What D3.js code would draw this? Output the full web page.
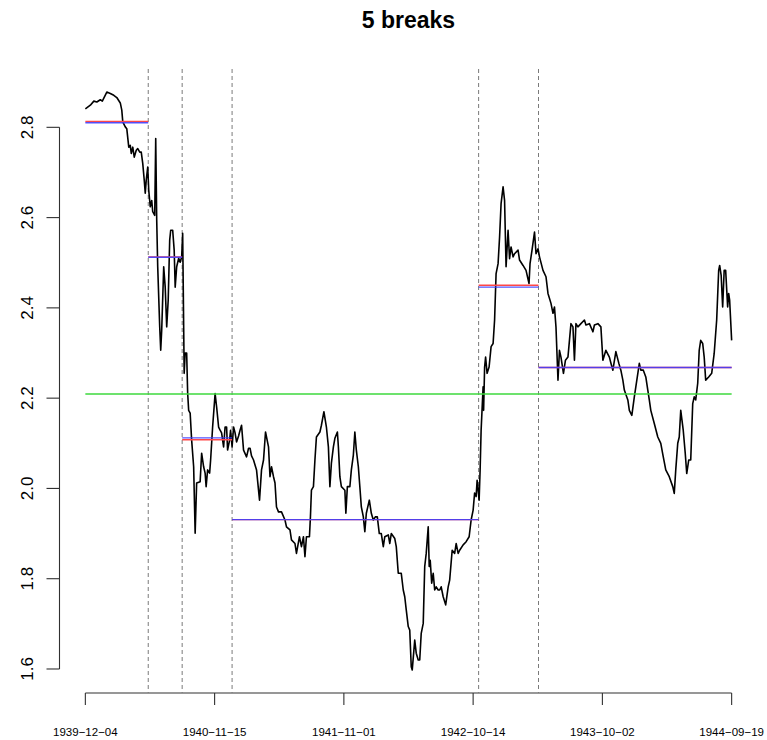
<!DOCTYPE html>
<html>
<head>
<meta charset="utf-8">
<script src="https://cdn.jsdelivr.net/npm/d3@7"></script>
<style>
  body { margin: 0; background: #fff; }
  svg { display: block; }
  text { font-family: "Liberation Sans", Arial, Helvetica, sans-serif; fill: #000; }
</style>
</head>
<body>
<svg id="chart" width="767" height="740"></svg>
<script>
// ---- data ----------------------------------------------------------------
const chartTitle = "5 breaks";

// axis labels along the observation index
const dateLabels = ["1939-12-04", "1940-11-15", "1941-11-01", "1942-10-14", "1943-10-02", "1944-09-19"];
const labelObs = [0, 259, 518, 777, 1036, 1295];
const yTicks = [1.6, 1.8, 2.0, 2.2, 2.4, 2.6, 2.8];

// estimated break points (observation index)
const breakObs = [126, 194, 294, 788, 908];

// per-segment levels: fitted (red) and segment mean (blue)
const segmentFit  = [2.813, 2.513, 2.108, 1.931, 2.450, 2.268];
const segmentMean = [2.810, 2.512, 2.112, 1.931, 2.446, 2.268];
// mean of the whole series (green)
const overallMean = 2.209;

// [observation, value]
const series = [
  [0,2.841],[10,2.849],[17,2.858],[23,2.856],[30,2.861],[34,2.858],[43,2.878],[50,2.875],[57,2.871],[63,2.866],
  [70,2.854],[73,2.838],[75,2.812],[80,2.801],[83,2.797],[87,2.756],[90,2.760],[92,2.742],[95,2.756],[98,2.734],
  [102,2.749],[105,2.753],[109,2.745],[112,2.745],[115,2.720],[118,2.683],[120,2.654],[122,2.683],[125,2.712],[127,2.661],
  [130,2.624],[133,2.638],[135,2.613],[139,2.605],[141,2.775],[143,2.594],[145,2.491],[149,2.358],[151,2.306],[153,2.351],
  [157,2.491],[160,2.446],[163,2.358],[166,2.417],[169,2.550],[171,2.572],[175,2.572],[178,2.528],[180,2.446],[183,2.491],
  [187,2.510],[190,2.501],[193,2.513],[195,2.565],[197,2.358],[198,2.255],[200,2.300],[203,2.300],[205,2.211],[207,2.173],
  [210,2.167],[213,2.107],[217,2.048],[220,1.901],[223,2.012],[230,2.015],[233,2.078],[237,2.048],[240,2.034],[242,2.004],
  [245,2.041],[249,2.034],[251,2.063],[255,2.136],[260,2.210],[263,2.181],[267,2.136],[270,2.129],[273,2.123],[277,2.092],
  [280,2.136],[283,2.136],[285,2.085],[289,2.107],[291,2.129],[294,2.092],[297,2.136],[300,2.123],[303,2.103],[307,2.116],
  [310,2.129],[313,2.140],[317,2.085],[323,2.070],[327,2.089],[330,2.089],[333,2.072],[337,2.063],[343,2.041],[349,1.974],
  [353,2.041],[357,2.063],[361,2.125],[367,2.092],[370,2.026],[373,2.048],[377,2.026],[380,2.012],[383,1.959],[387,1.948],
  [393,1.948],[400,1.930],[403,1.915],[410,1.908],[413,1.886],[420,1.878],[423,1.856],[429,1.893],[433,1.871],[437,1.893],
  [440,1.849],[443,1.893],[449,1.893],[451,1.937],[453,1.996],[457,2.004],[460,2.063],[463,2.114],[470,2.125],[473,2.140],
  [478,2.170],[483,2.136],[487,2.092],[490,2.004],[493,2.056],[497,2.092],[500,2.111],[505,2.125],[507,2.092],[510,2.026],
  [513,2.004],[520,1.996],[522,1.945],[525,2.004],[530,2.004],[533,2.041],[537,2.074],[540,2.125],[543,2.085],[547,2.048],
  [550,2.004],[553,1.959],[557,1.937],[560,1.904],[563,1.945],[569,1.974],[573,1.945],[577,1.930],[581,1.937],[585,1.937],
  [589,1.900],[593,1.900],[597,1.871],[600,1.893],[607,1.897],[610,1.878],[613,1.900],[620,1.889],[623,1.871],[627,1.812],
  [633,1.812],[637,1.775],[640,1.760],[643,1.731],[647,1.694],[650,1.686],[653,1.605],[655,1.598],[660,1.664],[663,1.635],
  [667,1.620],[670,1.620],[673,1.679],[677,1.701],[680,1.827],[683,1.856],[687,1.915],[689,1.827],[691,1.841],[694,1.790],
  [697,1.812],[700,1.775],[703,1.782],[707,1.775],[710,1.775],[713,1.782],[717,1.760],[722,1.742],[727,1.782],[730,1.797],
  [735,1.863],[740,1.856],[743,1.878],[747,1.856],[750,1.863],[757,1.875],[763,1.882],[769,1.893],[773,1.930],[777,1.952],
  [780,1.990],[783,1.982],[785,2.018],[789,1.974],[791,2.041],[793,2.129],[797,2.225],[798,2.173],[800,2.269],[802,2.291],
  [805,2.255],[809,2.269],[813,2.314],[817,2.321],[820,2.373],[823,2.476],[827,2.498],[830,2.557],[833,2.631],[837,2.668],
  [840,2.638],[843,2.491],[847,2.572],[850,2.509],[853,2.535],[857,2.513],[860,2.520],[867,2.528],[870,2.506],[877,2.494],
  [883,2.483],[889,2.454],[891,2.498],[895,2.528],[900,2.568],[903,2.520],[907,2.531],[910,2.513],[917,2.483],[923,2.469],
  [927,2.432],[933,2.410],[937,2.388],[940,2.402],[943,2.358],[947,2.240],[950,2.306],[953,2.291],[958,2.255],[962,2.284],
  [967,2.291],[970,2.328],[973,2.365],[977,2.358],[980,2.284],[983,2.365],[987,2.358],[993,2.365],[1000,2.373],[1003,2.362],
  [1010,2.365],[1017,2.347],[1020,2.362],[1027,2.365],[1033,2.358],[1037,2.284],[1043,2.306],[1050,2.291],[1053,2.278],[1057,2.262],
  [1063,2.303],[1069,2.277],[1073,2.262],[1077,2.240],[1080,2.218],[1087,2.196],[1090,2.173],[1095,2.162],[1100,2.203],[1103,2.225],
  [1110,2.277],[1113,2.262],[1118,2.262],[1123,2.247],[1127,2.218],[1130,2.196],[1133,2.173],[1140,2.144],[1147,2.114],[1153,2.100],
  [1158,2.070],[1163,2.041],[1170,2.026],[1177,2.004],[1180,1.989],[1183,2.041],[1187,2.100],[1190,2.114],[1193,2.173],[1198,2.129],
  [1202,2.078],[1205,2.033],[1209,2.063],[1213,2.063],[1217,2.188],[1220,2.203],[1223,2.196],[1227,2.233],[1230,2.306],[1233,2.328],
  [1237,2.321],[1240,2.291],[1243,2.240],[1249,2.247],[1255,2.255],[1260,2.299],[1265,2.373],[1269,2.483],[1271,2.494],[1274,2.472],
  [1277,2.402],[1280,2.483],[1283,2.483],[1287,2.402],[1289,2.432],[1291,2.417],[1295,2.328]
];

// ---- layout --------------------------------------------------------------
const plot = { left: 59.5, right: 757.5, top: 69, bottom: 693 };
const svg = d3.select("#chart");

// base-graphics style 4% padding around the data range
function padded(ext) {
  const p = (ext[1] - ext[0]) * 0.04;
  return [ext[0] - p, ext[1] + p];
}
const x = d3.scaleLinear()
  .domain(padded(d3.extent(series, d => d[0])))
  .range([plot.left, plot.right]);
const y = d3.scaleLinear()
  .domain(padded(d3.extent(series, d => d[1])))
  .range([plot.bottom, plot.top]);

// ---- title ---------------------------------------------------------------
svg.append("text")
  .attr("x", (plot.left + plot.right) / 2)
  .attr("y", 28)
  .attr("text-anchor", "middle")
  .style("font-size", "23px")
  .style("font-weight", "bold")
  .text(chartTitle);

// ---- axes ----------------------------------------------------------------
const axisColor = "#303030";
const yAxis = svg.append("g");
yAxis.append("line")
  .attr("x1", plot.left).attr("x2", plot.left)
  .attr("y1", y(d3.min(yTicks))).attr("y2", y(d3.max(yTicks)))
  .attr("stroke", axisColor).attr("stroke-width", 1.1);
yAxis.selectAll("line.tick").data(yTicks).join("line")
  .attr("class", "tick")
  .attr("x1", plot.left - 13).attr("x2", plot.left)
  .attr("y1", d => y(d)).attr("y2", d => y(d))
  .attr("stroke", axisColor).attr("stroke-width", 1.1);
yAxis.selectAll("text").data(yTicks).join("text")
  .attr("transform", d => `translate(33,${y(d)}) rotate(-90)`)
  .attr("text-anchor", "middle")
  .style("font-size", "17px")
  .text(d => d3.format(".1f")(d));

const xAxis = svg.append("g");
xAxis.append("line")
  .attr("x1", x(d3.min(labelObs))).attr("x2", x(d3.max(labelObs)))
  .attr("y1", plot.bottom).attr("y2", plot.bottom)
  .attr("stroke", axisColor).attr("stroke-width", 1.1);
xAxis.selectAll("line.tick").data(labelObs).join("line")
  .attr("class", "tick")
  .attr("x1", d => x(d)).attr("x2", d => x(d))
  .attr("y1", plot.bottom).attr("y2", plot.bottom + 12)
  .attr("stroke", axisColor).attr("stroke-width", 1.1);
xAxis.selectAll("text").data(labelObs).join("text")
  .attr("x", d => x(d))
  .attr("y", 736)
  .attr("text-anchor", "middle")
  .style("font-size", "11.5px")
  .text((d, i) => dateLabels[i].replace(/-/g, "\u2212"));

// ---- break lines -----------------------------------------------------------
svg.append("g").selectAll("line").data(breakObs).join("line")
  .attr("x1", d => x(d)).attr("x2", d => x(d))
  .attr("y1", plot.top).attr("y2", plot.bottom)
  .attr("stroke", "#7a7a7a").attr("stroke-width", 1)
  .attr("stroke-dasharray", "4,3");

// ---- series line -----------------------------------------------------------
svg.append("path")
  .datum(series)
  .attr("fill", "none")
  .attr("stroke", "#000")
  .attr("stroke-width", 1.6)
  .attr("stroke-linejoin", "round")
  .attr("d", d3.line().x(d => x(d[0])).y(d => y(d[1])));

// ---- overall mean ----------------------------------------------------------
const xFirst = d3.min(series, d => d[0]);
const xLast = d3.max(series, d => d[0]);
svg.append("line")
  .attr("x1", x(xFirst)).attr("x2", x(xLast))
  .attr("y1", y(overallMean)).attr("y2", y(overallMean))
  .attr("stroke", "#3cd83c").attr("stroke-width", 1.5);

// ---- segment levels --------------------------------------------------------
const bounds = [xFirst, ...breakObs, xLast];
const segs = segmentFit.map((v, i) => ({ a: bounds[i], b: bounds[i + 1], fit: v, mean: segmentMean[i] }));
svg.append("g").selectAll("line").data(segs).join("line")
  .attr("x1", d => x(d.a)).attr("x2", d => x(d.b))
  .attr("y1", d => y(d.fit)).attr("y2", d => y(d.fit))
  .attr("stroke", "#ff4848").attr("stroke-width", 1.4);
svg.append("g").selectAll("line").data(segs).join("line")
  .attr("x1", d => x(d.a)).attr("x2", d => x(d.b))
  .attr("y1", d => y(d.mean)).attr("y2", d => y(d.mean))
  .attr("stroke", "#3c3cff").attr("stroke-width", 1.4)
  .attr("stroke-opacity", 0.88);
</script>
</body>
</html>
